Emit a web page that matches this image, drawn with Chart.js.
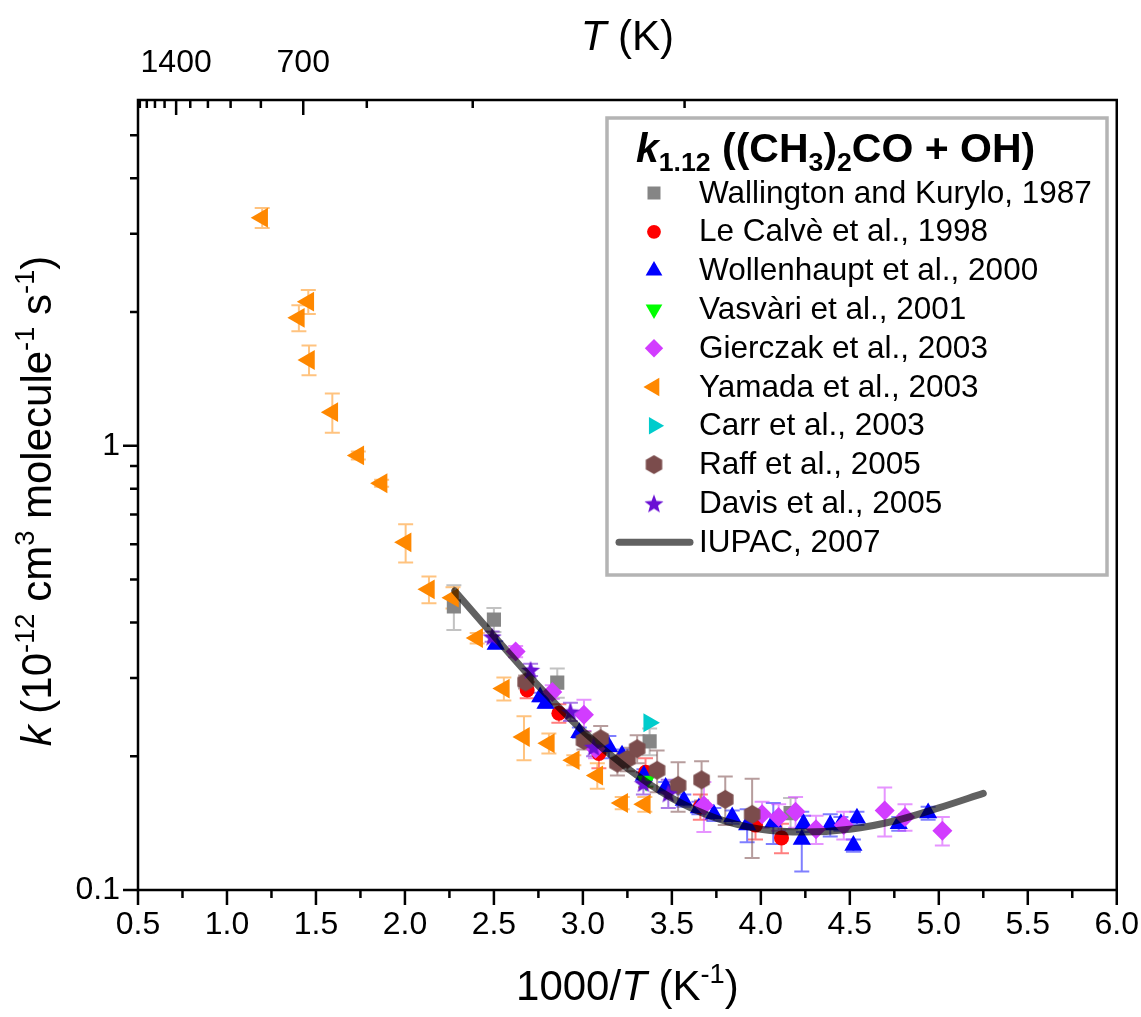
<!DOCTYPE html>
<html><head><meta charset="utf-8">
<script src="https://cdn.jsdelivr.net/npm/chart.js@4.4.1/dist/chart.umd.min.js"></script>
<style>html,body{margin:0;padding:0;background:#fff;}#wrap{width:1141px;height:1017px;position:relative;}</style>
</head><body><div id="wrap"><canvas id="c" width="1141" height="1017"></canvas></div>
<script>
// ---------- data ----------
const wkX = [2.275, 2.50, 2.856, 3.375, 4.167];
const wkY = [0.435, 0.406, 0.293, 0.216, 0.149];
const wkErr = [0.05, 0.025, 0.022, 0.015, 0.012];

const lcX = [2.687, 2.865, 3.09, 3.352, 3.66, 3.97, 4.116];
const lcY = [0.282, 0.250, 0.203, 0.184, 0.154, 0.140, 0.131];
const lcErr = [0.012, 0.012, 0.015, 0.014, 0.01, 0.01, 0.01];

const woX = [2.51, 2.76, 2.79, 2.98, 3.146, 3.22, 3.343, 3.465, 3.567, 3.652, 3.736, 3.839, 3.923, 4.07, 4.23, 4.24, 4.39, 4.45, 4.52, 4.54, 4.775, 4.94];
const woY = [0.357, 0.272, 0.263, 0.226, 0.210, 0.201, 0.181, 0.170, 0.159, 0.153, 0.148, 0.146, 0.140, 0.142, 0.130, 0.141, 0.140, 0.141, 0.126, 0.145, 0.141, 0.149];
const woErr = [0.006, 0.006, 0.006, 0.006, 0.012, 0.006, 0.006, 0.005, 0.005, 0.005, 0.005, 0.005, 0.012, 0.015, 0.02, 0.006, 0.008, 0.005, 0.004, 0.005, 0.005, 0.005];

const vaX = [3.355];
const vaY = [0.176];
const vaErr = [0.005];

const giX = [2.622, 2.828, 3.006, 3.071, 3.68, 4.007, 4.10, 4.195, 4.31, 4.466, 4.696, 4.81, 5.02];
const giY = [0.344, 0.279, 0.248, 0.208, 0.155, 0.148, 0.146, 0.150, 0.137, 0.140, 0.151, 0.146, 0.136];
const giErr = [0.01, 0.01, 0.02, 0.01, 0.02, 0.01, 0.01, 0.012, 0.01, 0.01, 0.019, 0.01, 0.01];

const yaX = [1.198, 1.404, 1.457, 1.461, 1.592, 1.738, 1.869, 2.004, 2.135, 2.27, 2.406, 2.556, 2.669, 2.809, 2.949, 3.081, 3.221, 3.348];
const yaY = [3.26, 1.94, 2.11, 1.56, 1.19, 0.951, 0.823, 0.606, 0.475, 0.455, 0.369, 0.284, 0.221, 0.214, 0.196, 0.181, 0.157, 0.156];
const yaErr = [0.17, 0.13, 0.13, 0.12, 0.12, 0.02, 0.015, 0.06, 0.033, 0.025, 0.01, 0.017, 0.025, 0.011, 0.005, 0.012, 0.005, 0.006];

const caX = [3.371];
const caY = [0.238];

const raX = [2.678, 3.006, 3.10, 3.194, 3.25, 3.305, 3.417, 3.535, 3.667, 3.80, 3.951];
const raY = [0.294, 0.217, 0.219, 0.193, 0.197, 0.208, 0.186, 0.172, 0.177, 0.160, 0.148];
const raErr = [0.01, 0.01, 0.015, 0.012, 0.012, 0.015, 0.02, 0.022, 0.018, 0.02, 0.03];

const daX = [2.49, 2.706, 2.93, 3.06, 3.34, 3.48];
const daY = [0.372, 0.313, 0.252, 0.210, 0.174, 0.165];
const daErr = [0.01, 0.01, 0.012, 0.01, 0.01, 0.012];

const iupacX = [2.28, 2.5, 2.75, 3.0, 3.25, 3.5, 3.75, 4.0, 4.25, 4.5, 4.75, 5.0, 5.25];
const iupacY = [0.471, 0.373, 0.288, 0.228, 0.188, 0.161, 0.145, 0.137, 0.135, 0.137, 0.143, 0.153, 0.165];

// ---------- ticks ----------
const xTickValues = [0.5, 1.0, 1.5, 2.0, 2.5, 3.0, 3.5, 4.0, 4.5, 5.0, 5.5, 6.0];
const xMinorTicks = [0.75, 1.25, 1.75, 2.25, 2.75, 3.25, 3.75, 4.25, 4.75, 5.25, 5.75];
const yTickValues = [0.1, 1];
const yMinorTicks = [0.2, 0.3, 0.4, 0.5, 0.6, 0.7, 0.8, 0.9, 2, 3, 4, 5];
const topTickTemps = [1400, 700];
const topMinorTemps = [1960, 1820, 1680, 1540, 1260, 1120, 980, 840, 560, 420, 280];

const FAM = '"Liberation Sans", Arial, Helvetica, sans-serif';

function pts(xs, ys) { return xs.map((x, i) => ({ x: x, y: ys[i] })); }

function makeHex(color, r) {
  const c = document.createElement('canvas'); const s = Math.ceil(2 * r + 2);
  c.width = s; c.height = s; const g = c.getContext('2d');
  g.fillStyle = color; g.beginPath();
  for (let k = 0; k < 6; k++) { const a = -Math.PI / 2 + k * Math.PI / 3; const px = s / 2 + r * Math.cos(a), py = s / 2 + r * Math.sin(a); k ? g.lineTo(px, py) : g.moveTo(px, py); }
  g.closePath(); g.fill(); return c;
}
function makeStar(color, r, ri) {
  const c = document.createElement('canvas'); const s = Math.ceil(2 * r + 2);
  c.width = s; c.height = s; const g = c.getContext('2d');
  g.fillStyle = color; g.beginPath();
  for (let k = 0; k < 10; k++) { const a = -Math.PI / 2 + k * Math.PI / 5; const rr = k % 2 ? ri : r; const px = s / 2 + rr * Math.cos(a), py = s / 2 + 1 + rr * Math.sin(a); k ? g.lineTo(px, py) : g.moveTo(px, py); }
  g.closePath(); g.fill(); return c;
}
const hexImg = makeHex('#7b4c4c', 9.5);
const starImg = makeStar('#6a10d4', 10, 4.2);

function sc(label, xs, ys, errs, color, errColor, style, radius, rot, order) {
  return { label: label, data: pts(xs, ys), errors: errs, errorColor: errColor,
    pointStyle: style, pointRadius: radius, pointHoverRadius: radius, pointRotation: rot || 0,
    backgroundColor: color, borderColor: color, pointBorderWidth: 0, showLine: false, order: order };
}

const datasets = [
  sc('Wallington and Kurylo, 1987', wkX, wkY, wkErr, '#858585', 'rgba(133,133,133,0.5)', 'rect', 10, 0, 10),
  sc('Le Calvè et al., 1998', lcX, lcY, lcErr, '#ff0000', 'rgba(255,0,0,0.5)', 'circle', 7.5, 0, 9),
  sc('Wollenhaupt et al., 2000', woX, woY, woErr, '#0000ff', 'rgba(0,0,255,0.5)', 'triangle', 10.5, 0, 8),
  sc('Vasvàri et al., 2001', vaX, vaY, vaErr, '#00ff00', 'rgba(0,200,0,0.6)', 'triangle', 10.5, 180, 7),
  sc('Gierczak et al., 2003', giX, giY, giErr, '#d23cff', 'rgba(210,60,255,0.55)', 'rectRot', 10, 0, 6),
  sc('Yamada et al., 2003', yaX, yaY, yaErr, '#ff8800', 'rgba(255,136,0,0.5)', 'triangle', 11.5, 270, 5),
  sc('Carr et al., 2003', caX, caY, null, '#00cccc', 'rgba(0,204,204,0.5)', 'triangle', 11, 90, 4),
  sc('Raff et al., 2005', raX, raY, raErr, '#7b4c4c', 'rgba(123,76,76,0.55)', hexImg, 10, 0, 3),
  sc('Davis et al., 2005', daX, daY, daErr, '#6a10d4', 'rgba(106,16,212,0.55)', starImg, 10, 0, 2),
  { label: 'IUPAC, 2007', data: pts(iupacX, iupacY), showLine: true, borderColor: 'rgba(0,0,0,0.62)', backgroundColor: 'rgba(0,0,0,0.62)',
    borderWidth: 7, pointRadius: 0, pointHoverRadius: 0, cubicInterpolationMode: 'monotone', borderCapStyle: 'round', order: 0, isLine: true }
];

function drawRich(ctx, parts, x, y, size, align) {
  const fontOf = p => (p.italic ? 'italic ' : '') + (p.bold ? 'bold ' : '') + ((p.sup || p.sub) ? size * 0.65 : size) + 'px ' + FAM;
  let total = 0;
  parts.forEach(p => { ctx.font = fontOf(p); p.w = ctx.measureText(p.t).width; total += p.w; });
  let cx = align === 'center' ? x - total / 2 : x;
  ctx.textAlign = 'left'; ctx.textBaseline = 'alphabetic';
  parts.forEach(p => {
    ctx.font = fontOf(p);
    const dy = p.sup ? -size * 0.4 : (p.sub ? size * 0.22 : 0);
    ctx.fillText(p.t, cx, y + dy); cx += p.w;
  });
}

const errorBarPlugin = {
  id: 'errbars',
  beforeDatasetsDraw(chart) {
    const ctx = chart.ctx, ys = chart.scales.y;
    ctx.save();
    chart.data.datasets.forEach((ds, i) => {
      if (!ds.errors) return;
      const meta = chart.getDatasetMeta(i);
      ctx.strokeStyle = ds.errorColor; ctx.lineWidth = 2;
      meta.data.forEach((pt, j) => {
        const e = ds.errors[j]; if (!e) return;
        const v = ds.data[j].y;
        const yT = ys.getPixelForValue(v + e), yB = ys.getPixelForValue(v - e);
        ctx.beginPath();
        ctx.moveTo(pt.x, yT); ctx.lineTo(pt.x, yB);
        ctx.moveTo(pt.x - 7.5, yT); ctx.lineTo(pt.x + 7.5, yT);
        ctx.moveTo(pt.x - 7.5, yB); ctx.lineTo(pt.x + 7.5, yB);
        ctx.stroke();
      });
    });
    ctx.restore();
  }
};

const framePlugin = {
  id: 'frame',
  afterDraw(chart) {
    const ctx = chart.ctx, a = chart.chartArea, xs = chart.scales.x, ys = chart.scales.y;
    ctx.save();
    ctx.strokeStyle = '#000'; ctx.lineWidth = 2.5;
    ctx.strokeRect(a.left, a.top, a.right - a.left, a.bottom - a.top);
    ctx.lineWidth = 2.5; ctx.beginPath();
    xTickValues.forEach(v => { const p = xs.getPixelForValue(v); ctx.moveTo(p, a.bottom); ctx.lineTo(p, a.bottom + 15); });
    xMinorTicks.forEach(v => { const p = xs.getPixelForValue(v); ctx.moveTo(p, a.bottom); ctx.lineTo(p, a.bottom + 8); });
    yTickValues.forEach(v => { const p = ys.getPixelForValue(v); ctx.moveTo(a.left, p); ctx.lineTo(a.left - 15, p); });
    yMinorTicks.forEach(v => { const p = ys.getPixelForValue(v); ctx.moveTo(a.left, p); ctx.lineTo(a.left - 8, p); });
    topTickTemps.forEach(T => { const p = xs.getPixelForValue(1000 / T); ctx.moveTo(p, a.top); ctx.lineTo(p, a.top + 15); });
    topMinorTemps.forEach(T => { const p = xs.getPixelForValue(1000 / T); ctx.moveTo(p, a.top); ctx.lineTo(p, a.top + 8); });
    ctx.stroke();

    // axis titles
    ctx.fillStyle = '#000';
    drawRich(ctx, [{ t: 'T', italic: true }, { t: ' (K)' }], (a.left + a.right) / 2, 50, 42, 'center');
    drawRich(ctx, [{ t: '1000/' }, { t: 'T', italic: true }, { t: ' (K' }, { t: '-1', sup: true }, { t: ')' }], (a.left + a.right) / 2, 1000, 42, 'center');
    ctx.save(); ctx.translate(51, 501); ctx.rotate(-Math.PI / 2);
    drawRich(ctx, [{ t: 'k', italic: true }, { t: ' (10' }, { t: '-12', sup: true }, { t: ' cm' }, { t: '3', sup: true }, { t: ' molecule' }, { t: '-1', sup: true }, { t: ' s' }, { t: '-1', sup: true }, { t: ')' }], 0, 0, 42, 'center');
    ctx.restore();

    // legend box
    const L = { x: 607, y: 118, w: 500, h: 457 };
    ctx.fillStyle = '#fff'; ctx.fillRect(L.x, L.y, L.w, L.h);
    ctx.strokeStyle = '#b4b4b4'; ctx.lineWidth = 3.5; ctx.strokeRect(L.x, L.y, L.w, L.h);
    ctx.fillStyle = '#000';
    drawRich(ctx, [{ t: 'k', bold: true, italic: true }, { t: '1.12', bold: true, sub: true }, { t: ' ((CH', bold: true }, { t: '3', bold: true, sub: true }, { t: ')', bold: true }, { t: '2', bold: true, sub: true }, { t: 'CO + OH)', bold: true }], 636, 162, 41, 'left');
    chart.data.datasets.forEach((ds, i) => {
      const yy = 193 + i * 38.8;
      if (ds.isLine) {
        ctx.strokeStyle = ds.borderColor; ctx.lineWidth = 7; ctx.lineCap = 'round';
        ctx.beginPath(); ctx.moveTo(619, yy); ctx.lineTo(690, yy); ctx.stroke();
      } else {
        ctx.fillStyle = ds.backgroundColor; ctx.strokeStyle = ds.borderColor;
        Chart.helpers.drawPoint(ctx, { pointStyle: ds.pointStyle, rotation: ds.pointRotation, radius: ds.pointRadius * 0.92, borderWidth: 0 }, 654, yy);
      }
      ctx.fillStyle = '#000'; ctx.font = '31.5px ' + FAM; ctx.textAlign = 'left'; ctx.textBaseline = 'middle';
      ctx.fillText(ds.label, 699, yy + 1);
    });
    ctx.restore();
  }
};

const tickFont = { family: FAM, size: 32 };
new Chart(document.getElementById('c'), {
  type: 'scatter',
  data: { datasets: datasets },
  options: {
    responsive: false, animation: false, devicePixelRatio: 1,
    layout: { padding: { left: 0, right: 23, top: 0, bottom: 0 } },
    plugins: { legend: { display: false }, tooltip: { enabled: false } },
    elements: { line: { tension: 0 } },
    scales: {
      x: { type: 'linear', position: 'bottom', min: 0.5, max: 6,
        afterBuildTicks: s => { s.ticks = xTickValues.map(v => ({ value: v })); },
        ticks: { font: tickFont, color: '#000', padding: 2, maxRotation: 0, autoSkip: false, callback: v => Number(v).toFixed(1) },
        grid: { display: true, drawOnChartArea: false, drawTicks: true, tickLength: 14, color: 'rgba(0,0,0,0)', tickColor: 'rgba(0,0,0,0)' },
        border: { display: false },
        afterFit: s => { s.height = 127; } },
      x2: { type: 'linear', position: 'top', min: 0.5, max: 6,
        afterBuildTicks: s => { s.ticks = topTickTemps.map(T => ({ value: 1000 / T })); },
        ticks: { font: tickFont, color: '#000', padding: 4, maxRotation: 0, autoSkip: false, callback: v => String(Math.round(1000 / v)) },
        grid: { display: true, drawOnChartArea: false, drawTicks: true, tickLength: 14, color: 'rgba(0,0,0,0)', tickColor: 'rgba(0,0,0,0)' },
        border: { display: false },
        afterFit: s => { s.height = 100; } },
      y: { type: 'logarithmic', position: 'left', min: 0.1, max: 6,
        afterBuildTicks: s => { s.ticks = yTickValues.map(v => ({ value: v })); },
        ticks: { font: tickFont, color: '#000', padding: 4, autoSkip: false, callback: v => String(v) },
        grid: { display: true, drawOnChartArea: false, drawTicks: true, tickLength: 14, color: 'rgba(0,0,0,0)', tickColor: 'rgba(0,0,0,0)' },
        border: { display: false },
        afterFit: s => { s.width = 138; } }
    }
  },
  plugins: [errorBarPlugin, framePlugin]
});
</script></body></html>
